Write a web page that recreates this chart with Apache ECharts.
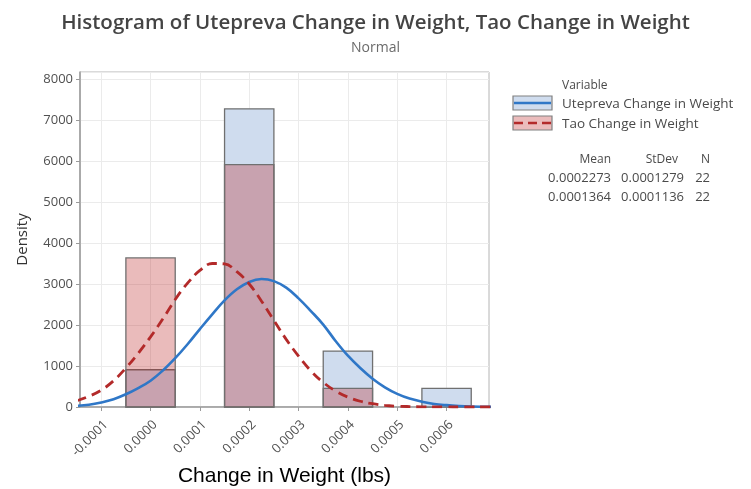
<!DOCTYPE html>
<html>
<head>
<meta charset="utf-8">
<script src="https://cdn.jsdelivr.net/npm/echarts@6/dist/echarts.min.js"></script>
<style>
html,body{margin:0;padding:0;background:#fff;}
#chart{width:751px;height:489px;}
</style>
</head>
<body>
<div id="chart"></div>
<script>
// ---- data ----
const titleText = 'Histogram of Utepreva Change in Weight, Tao Change in Weight';
const subtitleText = 'Normal';
const seriesNames = ['Utepreva Change in Weight', 'Tao Change in Weight'];
const xTickValues = [-0.0001, 0.0000, 0.0001, 0.0002, 0.0003, 0.0004, 0.0005, 0.0006];
const binCenters = [0.0000, 0.0002, 0.0004, 0.0006];
const binWidth = 0.0001;
const uteDensity = [909, 7273, 1364, 455];
const taoDensity = [3636, 5909, 455, 0];
const curveX = [-0.00015, -0.000125, -0.0001, -0.000075, -0.00005, -0.000025, 0, 0.000025, 0.00005, 0.000075,
  0.0001, 0.000125, 0.00015, 0.000175, 0.0002, 0.000225, 0.00025, 0.000275, 0.0003, 0.000325,
  0.00035, 0.000375, 0.0004, 0.000425, 0.00045, 0.000475, 0.0005, 0.000525, 0.00055, 0.000575,
  0.0006, 0.000625, 0.00065, 0.000675, 0.0007];
const uteCurve = [30, 55, 110, 190, 310, 460, 640, 890, 1190, 1530,
  1900, 2260, 2600, 2870, 3050, 3120, 3070, 2910, 2650, 2340,
  2010, 1610, 1250, 950, 690, 480, 320, 205, 130, 75,
  45, 25, 12, 6, 3];
const taoCurve = [150, 260, 410, 640, 950, 1310, 1710, 2150, 2620, 3020,
  3330, 3500, 3490, 3300, 3000, 2580, 2110, 1650, 1240, 880,
  600, 390, 240, 140, 80, 40, 20, 10, 4, 2,
  1, 0, 0, 0, 0];
const statHeaders = ['Mean', 'StDev', 'N'];
const uteStats = ['0.0002273', '0.0001279', '22'];
const taoStats = ['0.0001364', '0.0001136', '22'];
const legendTitle = 'Variable';
const xAxisName = 'Change in Weight (lbs)';
const yAxisName = 'Density';

// ---- build ----
const X_MIN = -0.000143, X_MAX = 0.000686;
function bins(dens) {
  const out = [];
  binCenters.forEach((c, i) => { if (dens[i] > 0) out.push([c - binWidth / 2, c + binWidth / 2, dens[i]]); });
  return out;
}
function barRender(fill) {
  return function (params, api) {
    const p0 = api.coord([api.value(0), api.value(2)]);
    const p1 = api.coord([api.value(1), 0]);
    return {
      type: 'rect',
      shape: { x: p0[0], y: p0[1], width: p1[0] - p0[0], height: p1[1] - p0[1] },
      style: { fill: fill, stroke: '#707070', lineWidth: 1.3 }
    };
  };
}
const FONT = 'Open Sans';
const chart = echarts.init(document.getElementById('chart'), null, { renderer: 'canvas' });

const LF = '13.5px "' + FONT + '"';
const statX = [611, 684, 710];
const headX = [611, 678, 710];
const graphics = [
  { type: 'text', x: 562, y: 86, style: { text: legendTitle, fill: '#4a4a4a', font: '12px "' + FONT + '"', verticalAlign: 'middle' } },
  { type: 'rect', shape: { x: 513, y: 96, width: 39, height: 14 }, style: { fill: '#cfdcee', stroke: '#808080', lineWidth: 1.2 } },
  { type: 'line', shape: { x1: 514, y1: 103, x2: 551, y2: 103 }, style: { stroke: '#2f77c7', lineWidth: 2.6 } },
  { type: 'rect', shape: { x: 513, y: 116, width: 39, height: 14 }, style: { fill: '#ebbcbc', stroke: '#808080', lineWidth: 1.2 } },
  { type: 'line', shape: { x1: 514, y1: 123, x2: 551, y2: 123 }, style: { stroke: '#b32a2a', lineWidth: 2.6, lineDash: [9, 5] } },
  { type: 'text', x: 562, y: 104, style: { text: seriesNames[0], fill: '#4a4a4a', font: LF, verticalAlign: 'middle' } },
  { type: 'text', x: 562, y: 124, style: { text: seriesNames[1], fill: '#4a4a4a', font: LF, verticalAlign: 'middle' } }
];
statHeaders.forEach((t, i) => graphics.push({ type: 'text', x: headX[i], y: 160, style: { text: t, fill: '#4a4a4a', font: '12px "' + FONT + '"', align: 'right', verticalAlign: 'middle' } }));
uteStats.forEach((t, i) => graphics.push({ type: 'text', x: statX[i], y: 178, style: { text: t, fill: '#4a4a4a', font: '13px "' + FONT + '"', align: 'right', verticalAlign: 'middle' } }));
taoStats.forEach((t, i) => graphics.push({ type: 'text', x: statX[i], y: 197, style: { text: t, fill: '#4a4a4a', font: '13px "' + FONT + '"', align: 'right', verticalAlign: 'middle' } }));

const option = {
  animation: false,
  backgroundColor: '#ffffff',
  title: [
    { text: titleText, left: 'center', top: 8, textStyle: { fontFamily: FONT, fontSize: 20.5, fontWeight: 600, color: '#444' } },
    { text: subtitleText, left: 'center', top: 36, textStyle: { fontFamily: FONT, fontSize: 14, fontWeight: 'normal', color: '#6b6b6b' } }
  ],
  grid: { left: 80, right: 262, top: 72, bottom: 82, outerBoundsMode: 'none', containLabel: false,
    show: true, borderColor: '#b4b4b4', borderWidth: 1, backgroundColor: 'transparent' },
  xAxis: {
    type: 'value', min: X_MIN, max: X_MAX,
    name: xAxisName, nameLocation: 'middle', nameGap: 58,
    nameTextStyle: { fontFamily: 'Liberation Sans', fontSize: 21, color: '#000' },
    axisLine: { show: true, onZero: false, lineStyle: { color: '#9a9a9a', width: 1.5 } },
    axisTick: { show: true, length: 4, lineStyle: { color: '#9a9a9a' }, customValues: xTickValues },
    axisLabel: { customValues: xTickValues, rotate: 45, margin: 11, verticalAlign: 'top', color: '#505050', fontFamily: FONT, fontSize: 13,
      formatter: v => v.toFixed(4) },
    splitLine: { show: true, lineStyle: { color: '#ebebeb', width: 1 }, customValues: xTickValues }
  },
  yAxis: {
    type: 'value', min: 0, max: 8170, interval: 1000,
    name: yAxisName, nameLocation: 'middle', nameGap: 50,
    nameTextStyle: { fontFamily: FONT, fontSize: 15, color: '#333' },
    axisLine: { show: true, onZero: false, lineStyle: { color: '#9a9a9a', width: 1.5 } },
    axisTick: { show: true, length: 4, lineStyle: { color: '#9a9a9a' } },
    axisLabel: { showMaxLabel: false, color: '#505050', fontFamily: FONT, fontSize: 13, margin: 7, formatter: v => String(v) },
    splitLine: { show: true, lineStyle: { color: '#ebebeb', width: 1 } }
  },
  series: [
    { type: 'custom', name: seriesNames[0] + ' bars', renderItem: barRender('#cfdcee'), encode: { x: [0, 1], y: 2 }, data: bins(uteDensity), z: 2 },
    { type: 'custom', name: seriesNames[1] + ' bars', renderItem: barRender('rgba(182,21,21,0.29)'), encode: { x: [0, 1], y: 2 }, data: bins(taoDensity), z: 3 },
    { type: 'line', name: seriesNames[0], data: curveX.map((x, i) => [x, uteCurve[i]]), smooth: 0.4, showSymbol: false,
      lineStyle: { color: '#2f77c7', width: 2.6 }, z: 5 },
    { type: 'line', name: seriesNames[1], data: curveX.map((x, i) => [x, taoCurve[i]]), smooth: 0.4, showSymbol: false,
      lineStyle: { color: '#b32a2a', width: 2.8, type: [10, 6] }, z: 6 }
  ],
  graphic: graphics
};
chart.setOption(option);
</script>
</body>
</html>
